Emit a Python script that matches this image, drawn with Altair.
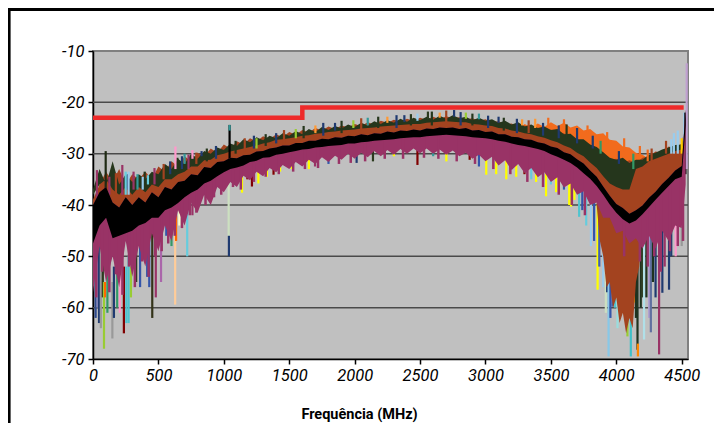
import altair as alt
import pandas as pd

# ---------------- data (dB values) ----------------
FREQ = list(range(0, 4501, 50)) + [4530]

BLACK_TOP = [
    -40, -37.5, -36.5, -39.5, -40.5, -38.5, -40, -38.5, -39.5, -37.5,
    -38.5, -36.5, -37, -35.5, -35.3, -34, -34.2, -32.6, -32.8, -31.6,
    -31.5, -30.8, -30.9, -30.3, -30.2, -29.6, -29.5, -29, -28.8, -28.4,
    -28.4, -27.9, -27.9, -27.5, -27.5, -27.1, -27.2, -26.8, -26.9, -26.5,
    -26.6, -26.2, -26.4, -26, -26.1, -25.7, -25.9, -25.5, -25.6, -25.3,
    -25.5, -25.1, -25.2, -24.9, -25, -24.9, -25.2, -25, -25.5, -25.4,
    -25.8, -25.7, -26.2, -26.2, -26.7, -26.8, -27.2, -27.3, -27.8, -28,
    -28.6, -28.9, -29.7, -30.1, -31.1, -31.9, -33.3, -34.5, -36.4, -38.2,
    -39.8, -40.6, -41.7, -41, -40.1, -38.6, -37.4, -35.9, -34.7, -33.3,
    -32.4, -21.5,
]
BLACK_BOT = [
    -47.5, -44, -42.5, -46.5, -46, -45.5, -45, -44, -43.5, -42.5,
    -42.5, -41, -40.5, -39.6, -38.5, -37.6, -37, -35.8, -35.3, -34.4,
    -33.6, -33, -32.7, -32.3, -31.6, -31.4, -30.8, -30.7, -30.2, -30,
    -29.7, -29.5, -29.2, -29.1, -28.8, -28.7, -28.5, -28.4, -28.3, -28,
    -28, -27.8, -27.7, -27.5, -27.4, -27.3, -27.2, -27, -26.9, -26.8,
    -26.8, -26.6, -26.5, -26.4, -26.3, -26.4, -26.5, -26.6, -26.8, -26.9,
    -27, -27.2, -27.5, -27.7, -28, -28.3, -28.5, -28.8, -29.1, -29.5,
    -30.1, -30.6, -31.2, -31.8, -32.7, -33.8, -34.9, -36.3, -38, -39.9,
    -41.5, -42.8, -43.6, -43, -41.8, -40.4, -39, -37.6, -36.3, -35,
    -34.5, -24.5,
]
GREEN_TOP = [
    -37, -33, -36, -31.5, -36, -34, -35.5, -34, -35, -33.5,
    -34, -32, -33, -31, -32, -30, -31, -29.5, -30, -28.8,
    -29.3, -28, -28.5, -27.2, -27.8, -26.8, -27.4, -26.5, -27, -26,
    -26.5, -25.6, -26.2, -25.2, -25.8, -24.8, -25.4, -24.6, -25.1, -24.3,
    -24.8, -24, -24.5, -23.7, -24.2, -23.5, -24, -23.2, -23.8, -23,
    -23.5, -22.8, -23.4, -22.6, -23.2, -22.5, -23.1, -22.8, -23.5, -23,
    -23.6, -23.3, -24, -23.6, -24.3, -23.9, -24.7, -24.3, -25, -24.7,
    -25.4, -25.2, -26.2, -26.1, -27.2, -27.2, -28.2, -28.7, -29.7, -30.8,
    -31.2, -30.8, -31.8, -31.2, -31.2, -30.2, -29.8, -29.2, -28.8, -28.3,
    -28.2, -25,
]
GREEN_BOT = [
    -38, -36, -35, -37, -38, -36.5, -38, -36.5, -37.5, -36,
    -36.5, -35, -35, -34, -33.5, -32.5, -32.5, -31.3, -31.2, -30.3,
    -30, -29.6, -29.3, -29, -28.7, -28.4, -28, -27.8, -27.3, -27.2,
    -27, -26.8, -26.5, -26.4, -26.1, -26, -25.8, -25.7, -25.5, -25.4,
    -25.3, -25.1, -25, -24.9, -24.7, -24.6, -24.5, -24.4, -24.3, -24.2,
    -24.2, -24, -23.9, -23.8, -23.7, -23.8, -23.9, -23.9, -24.2, -24.3,
    -24.5, -24.6, -25, -25.1, -25.5, -25.7, -26, -26.2, -26.6, -26.9,
    -27.4, -27.8, -28.4, -28.9, -29.8, -30.5, -31.7, -32.8, -34.4, -35.8,
    -36.5, -37, -37, -33, -32.5, -31.5, -31, -30.5, -30, -29.5,
    -29.2, -25,
]
BROWN_TOP = [
    -39, -36, -33.5, -35.5, -33, -36, -34, -35, -33.5, -35,
    -32.5, -33.5, -31.5, -32.5, -30.5, -31.5, -29.8, -30.5, -29, -29.8,
    -28.2, -29, -27.6, -28.2, -27, -27.6, -26.6, -27.2, -26.2, -26.8,
    -25.8, -26.3, -25.4, -25.9, -25, -25.5, -24.7, -25.2, -24.5, -24.9,
    -24.2, -24.6, -23.9, -24.3, -23.6, -24, -23.4, -23.8, -23.2, -23.6,
    -23, -23.4, -22.8, -23.3, -22.7, -23.1, -22.9, -23.3, -23.1, -23.6,
    -23.3, -23.9, -23.7, -24.3, -24.1, -24.8, -24.5, -25.2, -25, -25.6,
    -25.3, -26.2, -26, -27.1, -27.1, -28.2, -28.3, -29.6, -29.7, -31.2,
    -31, -31.8, -31.3, -31.8, -30.8, -30.5, -29.6, -29.8, -28.6, -29,
    -28, -24,
]
MAGENTA_LOW = [
    -57, -48, -55, -50, -56, -47, -54, -48, -52, -45.5,
    -49, -44, -47, -41, -44, -39.5, -41.5, -38, -40, -36.5,
    -37.5, -35.5, -36.5, -34.3, -35.2, -33.5, -34.4, -32.8, -33.6, -32.2,
    -33, -31.6, -32.5, -31.2, -32, -30.7, -31.6, -30.4, -31.2, -30,
    -31, -29.8, -30.7, -29.5, -30.5, -29.3, -30.2, -29.1, -30, -29,
    -29.9, -29, -30, -29.2, -30.2, -29.4, -30.5, -29.8, -31, -30.2,
    -31.5, -30.6, -32.3, -31.3, -33.2, -32, -33.8, -32.8, -34.6, -33.6,
    -35.5, -34.6, -36.6, -35.8, -38, -37.3, -40, -39.5, -42.5, -42.5,
    -45.5, -45, -47.5, -46.5, -48.5, -46, -48.5, -45, -47, -44,
    -44.5, -36,
]
ORANGE_FREQ = list(range(3150, 4351, 50))
ORANGE_TOP = [
    -25.5, -24.6, -25.2, -24.2, -24.9, -24.1, -24.8, -23.9, -24.6, -24,
    -24.9, -24.5, -25.5, -25.2, -26.2, -26, -27.3, -27.5, -28.6, -28.8,
    -29.8, -30.2, -31, -31.8, -33.5,
]
DEEP_FREQ = [3850, 3875, 3900, 3925, 3950, 3975, 4000, 4025, 4050, 4075,
             4100, 4125, 4150, 4175, 4200]
DEEP_TOP = [-38.7, -39.7, -40.8, -41.5, -42.3, -43, -43.8, -44.1, -44.4, -44.2,
            -44, -43.3, -42.6, -42, -41.4]
DEEP_LOW = [-40, -47, -50, -56, -55, -60, -58, -63, -61, -65,
            -62, -64, -55, -52, -43]

# thin spikes: (MHz, upper dB, lower dB, colour)
DOWN_SPIKES = [
    (20, -45, -62, "#2E4A8C"), (35, -47, -60, "#8888BB"), (46, -48, -63, "#1F3A70"),
    (60, -48, -64, "#999999"), (75, -50, -58, "#2B3A1E"), (84, -55, -68, "#99CC33"),
    (92, -55, -58, "#FF6600"), (110, -52, -61, "#339966"), (148, -55, -66, "#999999"),
    (160, -52, -62, "#1F3A70"), (185, -50, -60, "#339966"), (205, -52, -61, "#FF99CC"),
    (236, -52, -65, "#800000"), (255, -52, -63, "#4FC4CF"), (272, -50, -63, "#4FC4CF"),
    (290, -52, -58, "#99CC33"), (330, -48, -55, "#2B3A1E"), (360, -48, -56, "#3355AA"),
    (414, -46, -54, "#3355AA"), (430, -46, -56, "#3355AA"), (453, -45, -62, "#333319"),
    (480, -46, -58, "#993366"), (520, -42, -55, "#AA66AA"), (560, -40, -46, "#3355AA"),
    (600, -40, -48, "#339966"), (628, -43, -59.4, "#FFCC99"), (635, -42, -47, "#FF6600"),
    (660, -40, -44, "#FFFFCC"), (720, -38, -50, "#66CCDD"), (760, -38, -42, "#993366"),
    (1037, -33, -46, "#CCE0C0"), (1039, -46, -50, "#1F3A70"),
    (900, -33, -36, "#FFFF00"), (960, -32, -35, "#FFFF00"), (1139, -33, -37.6, "#FFFF00"),
    (1180, -32, -35, "#800000"), (1215, -32, -36.4, "#800000"), (1264, -32, -35.8, "#FFFF00"),
    (1329, -31, -34.5, "#FFFF00"), (1380, -31, -34.1, "#800000"), (1430, -31, -33.5, "#FFFF00"),
    (1520, -30, -33, "#FFFF00"), (1650, -29.5, -33, "#FFFF00"), (1697, -29.5, -32.5, "#993366"),
    (1800, -29, -32, "#3355AA"), (2015, -28, -31.8, "#1F3A70"), (2140, -28, -31.5, "#2B3A1E"),
    (2300, -28, -30.5, "#FFFF00"), (2480, -27.5, -32.2, "#800000"), (2600, -27.5, -30.5, "#339999"),
    (2701, -27, -31.5, "#FFFF00"), (2879, -27, -31.2, "#800000"), (2950, -27, -32.5, "#3355AA"),
    (3006, -27.5, -34.1, "#FFFF00"), (3082, -28, -34, "#FFFF00"), (3159, -28, -35, "#FFFF00"),
    (3200, -28, -33, "#3355AA"), (3235, -28.5, -34.5, "#FFFF00"), (3298, -29, -34, "#800000"),
    (3350, -29, -35, "#66CCDD"), (3387, -30, -35.5, "#FFFF00"), (3420, -30, -34, "#3355AA"),
    (3463, -30, -38.3, "#FFFF00"), (3500, -31, -36, "#66CCDD"), (3540, -31, -37.5, "#FFFF00"),
    (3600, -32, -37, "#3355AA"), (3640, -33, -40, "#FFFF00"), (3654, -33, -40.3, "#FFFF00"),
    (3680, -33, -39, "#FFFF00"), (3716, -34, -42.3, "#4FC4CF"), (3740, -35, -41, "#3355AA"),
    (3770, -36, -44, "#66CCDD"), (3806, -37, -48, "#99CCEE"), (3830, -38, -47, "#3355AA"),
    (3857, -40, -56.5, "#FFFF00"), (3870, -40, -52, "#4060B0"), (3900, -42, -56, "#99CCEE"),
    (3920, -44, -61, "#CCE0C0"), (3930, -44, -57, "#1F3A70"), (3941, -45, -69.5, "#88C8E8"),
    (3955, -45, -62, "#3355AA"), (3971, -45, -59.8, "#4060B0"), (3990, -45, -60, "#4FC4CF"),
    (4009, -46, -64, "#99DDDD"), (4085, -48, -65.6, "#99CC33"), (4111, -48, -69.5, "#40C0C8"),
    (4136, -47, -59, "#FFCC00"), (4150, -47, -62, "#1F3320"), (4162, -46, -68.2, "#1F3320"),
    (4165, -67, -69.5, "#FF8800"), (4187, -46, -60, "#1F3320"), (4200, -46, -58, "#2B3A1E"),
    (4212, -46, -66.2, "#B0E0E8"), (4230, -46, -58, "#1F3320"), (4251, -46, -62, "#B0A0D0"),
    (4264, -46, -64.8, "#6070A0"), (4280, -45, -55, "#1F3320"), (4300, -45, -58, "#1F3A70"),
    (4327, -45, -69.1, "#993366"), (4352, -45, -57.1, "#1F3A70"), (4370, -44, -52, "#993366"),
    (4403, -43, -56.5, "#1F3A70"), (4420, -42, -50, "#1F3A70"), (4454, -42, -50, "#FF99CC"),
    (4480, -40, -44, "#1F3A70"), (4500, -38, -48, "#999999"),
]
UP_SPIKES = [
    (30, -33.2, -40, "#993366"), (97, -29.5, -40, "#1F2A14"), (224, -32.2, -38, "#993366"),
    (250, -33.5, -38, "#66CCDD"), (272, -33.5, -38, "#99CCEE"), (340, -34, -37, "#339999"),
    (380, -34.5, -37, "#99CCEE"), (420, -34.2, -36, "#66CCDD"), (630, -28.6, -33, "#FF99CC"),
    (680, -30.5, -33, "#1F3A70"), (700, -30, -32, "#339999"), (760, -29.3, -31, "#FF99CC"),
    (830, -29.5, -30.5, "#1F3A70"), (1044, -24.4, -32, "#000000"), (1044, -24.4, -25.5, "#339999"),
    (1250, -27, -29, "#99CC33"), (1400, -26, -28, "#1F3A70"), (1550, -25.2, -27, "#99CC33"),
    (1700, -24.5, -26, "#FF9933"), (1850, -24, -25.5, "#1F3A70"), (1990, -23.5, -25, "#99CC33"),
    (2100, -23, -24.5, "#339999"), (2250, -22.8, -24, "#FF9933"), (2380, -22.5, -23.8, "#1F3A70"),
    (2480, -22.2, -23.6, "#99CCEE"), (2560, -21.8, -23.3, "#2B3A1E"), (2650, -22, -23, "#FF9933"),
    (2760, -21.5, -22.8, "#1F3A70"), (2850, -22, -23.2, "#99CC33"), (2950, -22.2, -23.3, "#339999"),
    (3100, -22.8, -24, "#1F3A70"), (3280, -23.3, -24.5, "#FF9933"), (4440, -26, -30, "#99CCEE"),
    (4470, -25.5, -30, "#99CCEE"), (4500, -27, -30, "#FFCC00"), (4520, -22, -32, "#99CCEE"),
    (4528, -22, -34, "#000000"), (4538, -12.4, -33, "#C0A0D0"),
]
TOP_TEXTURE = [
    (125, -34.5, -38, "#993366"), (175, -33.8, -38, "#A3431F"), (265, -34, -37, "#1F3A70"),
    (310, -33.5, -37, "#993366"), (395, -33.5, -36, "#25361C"), (470, -32.8, -36, "#993366"),
    (540, -32, -35, "#A3431F"), (590, -31.5, -34, "#1F3A70"), (645, -30.8, -33.5, "#25361C"),
    (730, -30.2, -33, "#993366"), (790, -29.8, -32, "#A3431F"), (870, -29, -31.5, "#25361C"),
    (940, -28.5, -31, "#1F3A70"), (1090, -27.5, -30, "#25361C"), (1160, -27, -29.5, "#A3431F"),
    (1230, -26.5, -29, "#1F3A70"), (1320, -26.2, -28.5, "#25361C"), (1460, -25.4, -28, "#A3431F"),
    (1610, -24.6, -27, "#25361C"), (1760, -24, -26.5, "#1F3A70"), (1900, -23.6, -26, "#25361C"),
    (2050, -23.1, -25.5, "#A3431F"), (2180, -22.8, -25, "#25361C"), (2320, -22.5, -25, "#1F3A70"),
    (2430, -22.3, -24.5, "#25361C"), (2590, -21.8, -24.5, "#25361C"), (2700, -21.6, -24, "#A3431F"),
    (2810, -21.9, -24.5, "#1F3A70"), (2900, -22.2, -24.5, "#25361C"), (3020, -22.6, -25, "#1F3A70"),
    (3140, -23, -25.5, "#25361C"), (3240, -23.2, -26, "#1F3A70"), (3330, -23.5, -26, "#A3431F"),
    (3440, -24, -26.5, "#1F3A70"), (3560, -24.5, -27, "#1F3A70"), (3620, -24.3, -27, "#25361C"),
    (3700, -25, -28, "#1F3A70"), (3820, -26.5, -29, "#1F3A70"), (3880, -27.5, -30, "#339966"),
    (4020, -29.5, -32, "#1F3A70"), (4130, -30, -33, "#339966"), (4270, -29, -31.5, "#A3431F"),
    (4380, -27.5, -30, "#A3431F"), (4420, -27.2, -30, "#99CCEE"),
    (3380, -23.2, -25, "#FF9933"), (3480, -23, -25, "#F26B1D"), (3600, -23.3, -25, "#F26B1D"),
    (3780, -24.5, -26, "#F26B1D"), (3930, -25.8, -28, "#F26B1D"), (4060, -27, -29.5, "#F26B1D"),
    (4180, -28.5, -31, "#F26B1D"), (4240, -29.2, -31.5, "#F26B1D"),
]
MAGENTA_TEXTURE = [
    (25, -44, -58), (70, -44, -53), (125, -45, -57), (175, -45, -53.5), (225, -45, -57.5),
    (275, -44, -52), (320, -44, -56), (375, -43, -51), (425, -43, -54), (475, -42, -50),
    (525, -41, -49), (575, -40, -47.5), (625, -39, -46), (680, -38, -44.5), (740, -37, -42),
    (790, -36, -41.5), (860, -35, -40), (925, -34, -38.5), (980, -33, -38), (1070, -32, -36.5),
    (1130, -32, -37), (1230, -31, -35.5), (1320, -30, -34.5), (1420, -29.5, -34), (1530, -29, -33.5),
    (1620, -28.5, -33), (1720, -28, -32.8), (1880, -27.5, -32), (1970, -27.5, -31.8),
    (2080, -27, -31.5), (2230, -26.8, -31), (2370, -26.5, -31), (2530, -26.3, -30.8),
    (2640, -26, -31), (2780, -26, -31.5), (2920, -26.5, -32), (3060, -27, -33), (3190, -27.5, -34),
    (3320, -28.5, -35.5), (3440, -29, -36.5), (3560, -30, -38), (3660, -31.5, -40),
    (3760, -33, -42), (4060, -43, -50), (4180, -42, -51), (4240, -40, -52), (4290, -39, -50),
    (4340, -38, -53), (4410, -36, -49), (4470, -35, -48), (4510, -34, -47),
]
LIMIT_FREQ = [0, 1600, 1600, 4515]
LIMIT_DB = [-23, -23, -21, -21]
X_TICKS = [0, 500, 1000, 1500, 2000, 2500, 3000, 3500, 4000, 4500]
Y_TICKS = [-70, -60, -50, -40, -30, -20, -10]
GRID_DB = [-60, -50, -40, -30, -20]
X_TITLE = "Frequência (MHz)"

# ---------------- chart ----------------
FONT = "Roboto"
xscale = alt.Scale(domain=[0, 4548], nice=False, zero=False)
yscale = alt.Scale(domain=[-70, -10], nice=False, zero=False)
xaxis = alt.Axis(
    values=X_TICKS, grid=False, labelFlush=False, labelOverlap=False,
    labelExpr="datum.value + ''",
    labelFont=FONT, labelFontSize=16.5, labelFontStyle="italic", labelColor="#000",
    labelPadding=3, tickColor="#000", tickSize=5, tickWidth=1.5,
    domainColor="#000", domainWidth=1.5,
    title=X_TITLE, titleFont="Roboto", titleFontSize=14.5,
    titleFontWeight="bold", titleColor="#000", titleX=266, titleY=59,
    titleAlign="center", titleBaseline="alphabetic",
)
yaxis = alt.Axis(
    values=Y_TICKS, grid=False, labelOverlap=False, labelExpr="datum.value + ''",
    labelFont=FONT, labelFontSize=16.5, labelFontStyle="italic", labelColor="#000",
    labelPadding=4, tickColor="#000", tickSize=5, tickWidth=1.5,
    domainColor="#000", domainWidth=1.5, title="",
)


def X(field):
    return alt.X(field, type="quantitative", scale=xscale, axis=xaxis)


def Y(field):
    return alt.Y(field, type="quantitative", scale=yscale, axis=yaxis)


def band_chart(freqs, top, bot, color):
    df = pd.DataFrame({"f": freqs, "top": top, "bot": bot})
    return alt.Chart(df).mark_area(color=color, orient="vertical", opacity=1).encode(
        x=X("f"), y=Y("top"), y2="bot"
    )


def spikes_chart(rows, width=2.2, color=None):
    if color is None:
        df = pd.DataFrame(rows, columns=["f", "top", "bot", "c"])
        return alt.Chart(df).mark_rule(strokeWidth=width).encode(
            x=X("f"), y=Y("top"), y2="bot", color=alt.Color("c:N", scale=None)
        )
    df = pd.DataFrame(rows, columns=["f", "top", "bot"])
    return alt.Chart(df).mark_rule(strokeWidth=width, color=color).encode(
        x=X("f"), y=Y("top"), y2="bot"
    )


idx = {f: i for i, f in enumerate(FREQ)}
orange_bot = [BLACK_TOP[idx[f]] for f in ORANGE_FREQ]

grid = alt.Chart(pd.DataFrame({"v": GRID_DB})).mark_rule(
    color="#4a4a4a", strokeWidth=1.5
).encode(y=Y("v"))

orange = band_chart(ORANGE_FREQ, ORANGE_TOP, orange_bot, "#F26B1D")
brown = band_chart(FREQ, BROWN_TOP, BLACK_BOT, "#A3431F")
green = band_chart(FREQ, GREEN_TOP, GREEN_BOT, "#25361C")
top_tex = spikes_chart(TOP_TEXTURE)
up = spikes_chart(UP_SPIKES)
down = spikes_chart(DOWN_SPIKES)
deep = band_chart(DEEP_FREQ, DEEP_TOP, DEEP_LOW, "#A3431F")
magenta = band_chart(FREQ, BLACK_TOP, MAGENTA_LOW, "#993366")
mag_tex = spikes_chart(MAGENTA_TEXTURE, width=2.5, color="#993366")
black = band_chart(FREQ, BLACK_TOP, BLACK_BOT, "#000000")

limit = alt.Chart(
    pd.DataFrame({"f": LIMIT_FREQ, "v": LIMIT_DB, "i": list(range(len(LIMIT_FREQ)))})
).mark_line(color="#EE2A2A", strokeWidth=4.5).encode(x=X("f"), y=Y("v"), order="i:Q")

one = pd.DataFrame({"k": [0]})
frame_top = alt.Chart(one).mark_rule(color="#000", strokeWidth=3).encode(
    x=alt.value(-85), x2=alt.value(621), y=alt.value(-41.5)
)
frame_left = alt.Chart(one).mark_rule(color="#000", strokeWidth=2.6).encode(
    x=alt.value(-83.7), y=alt.value(-43), y2=alt.value(372)
)

chart = alt.layer(
    grid, orange, brown, green, top_tex, up, down, deep, magenta, mag_tex, black, limit,
    frame_top, frame_left,
).properties(
    width=595, height=308,
    padding={"left": 85, "top": 43, "right": 26, "bottom": 64},
    autosize=alt.AutoSizeParams(type="none"),
    background="white",
).configure_view(
    stroke="#808080", strokeWidth=2, fill="#C0C0C0"
).configure_axis(
    labelFontStyle="italic"
)

chart.save("out.html", embed_options={"renderer": "svg", "actions": False})
